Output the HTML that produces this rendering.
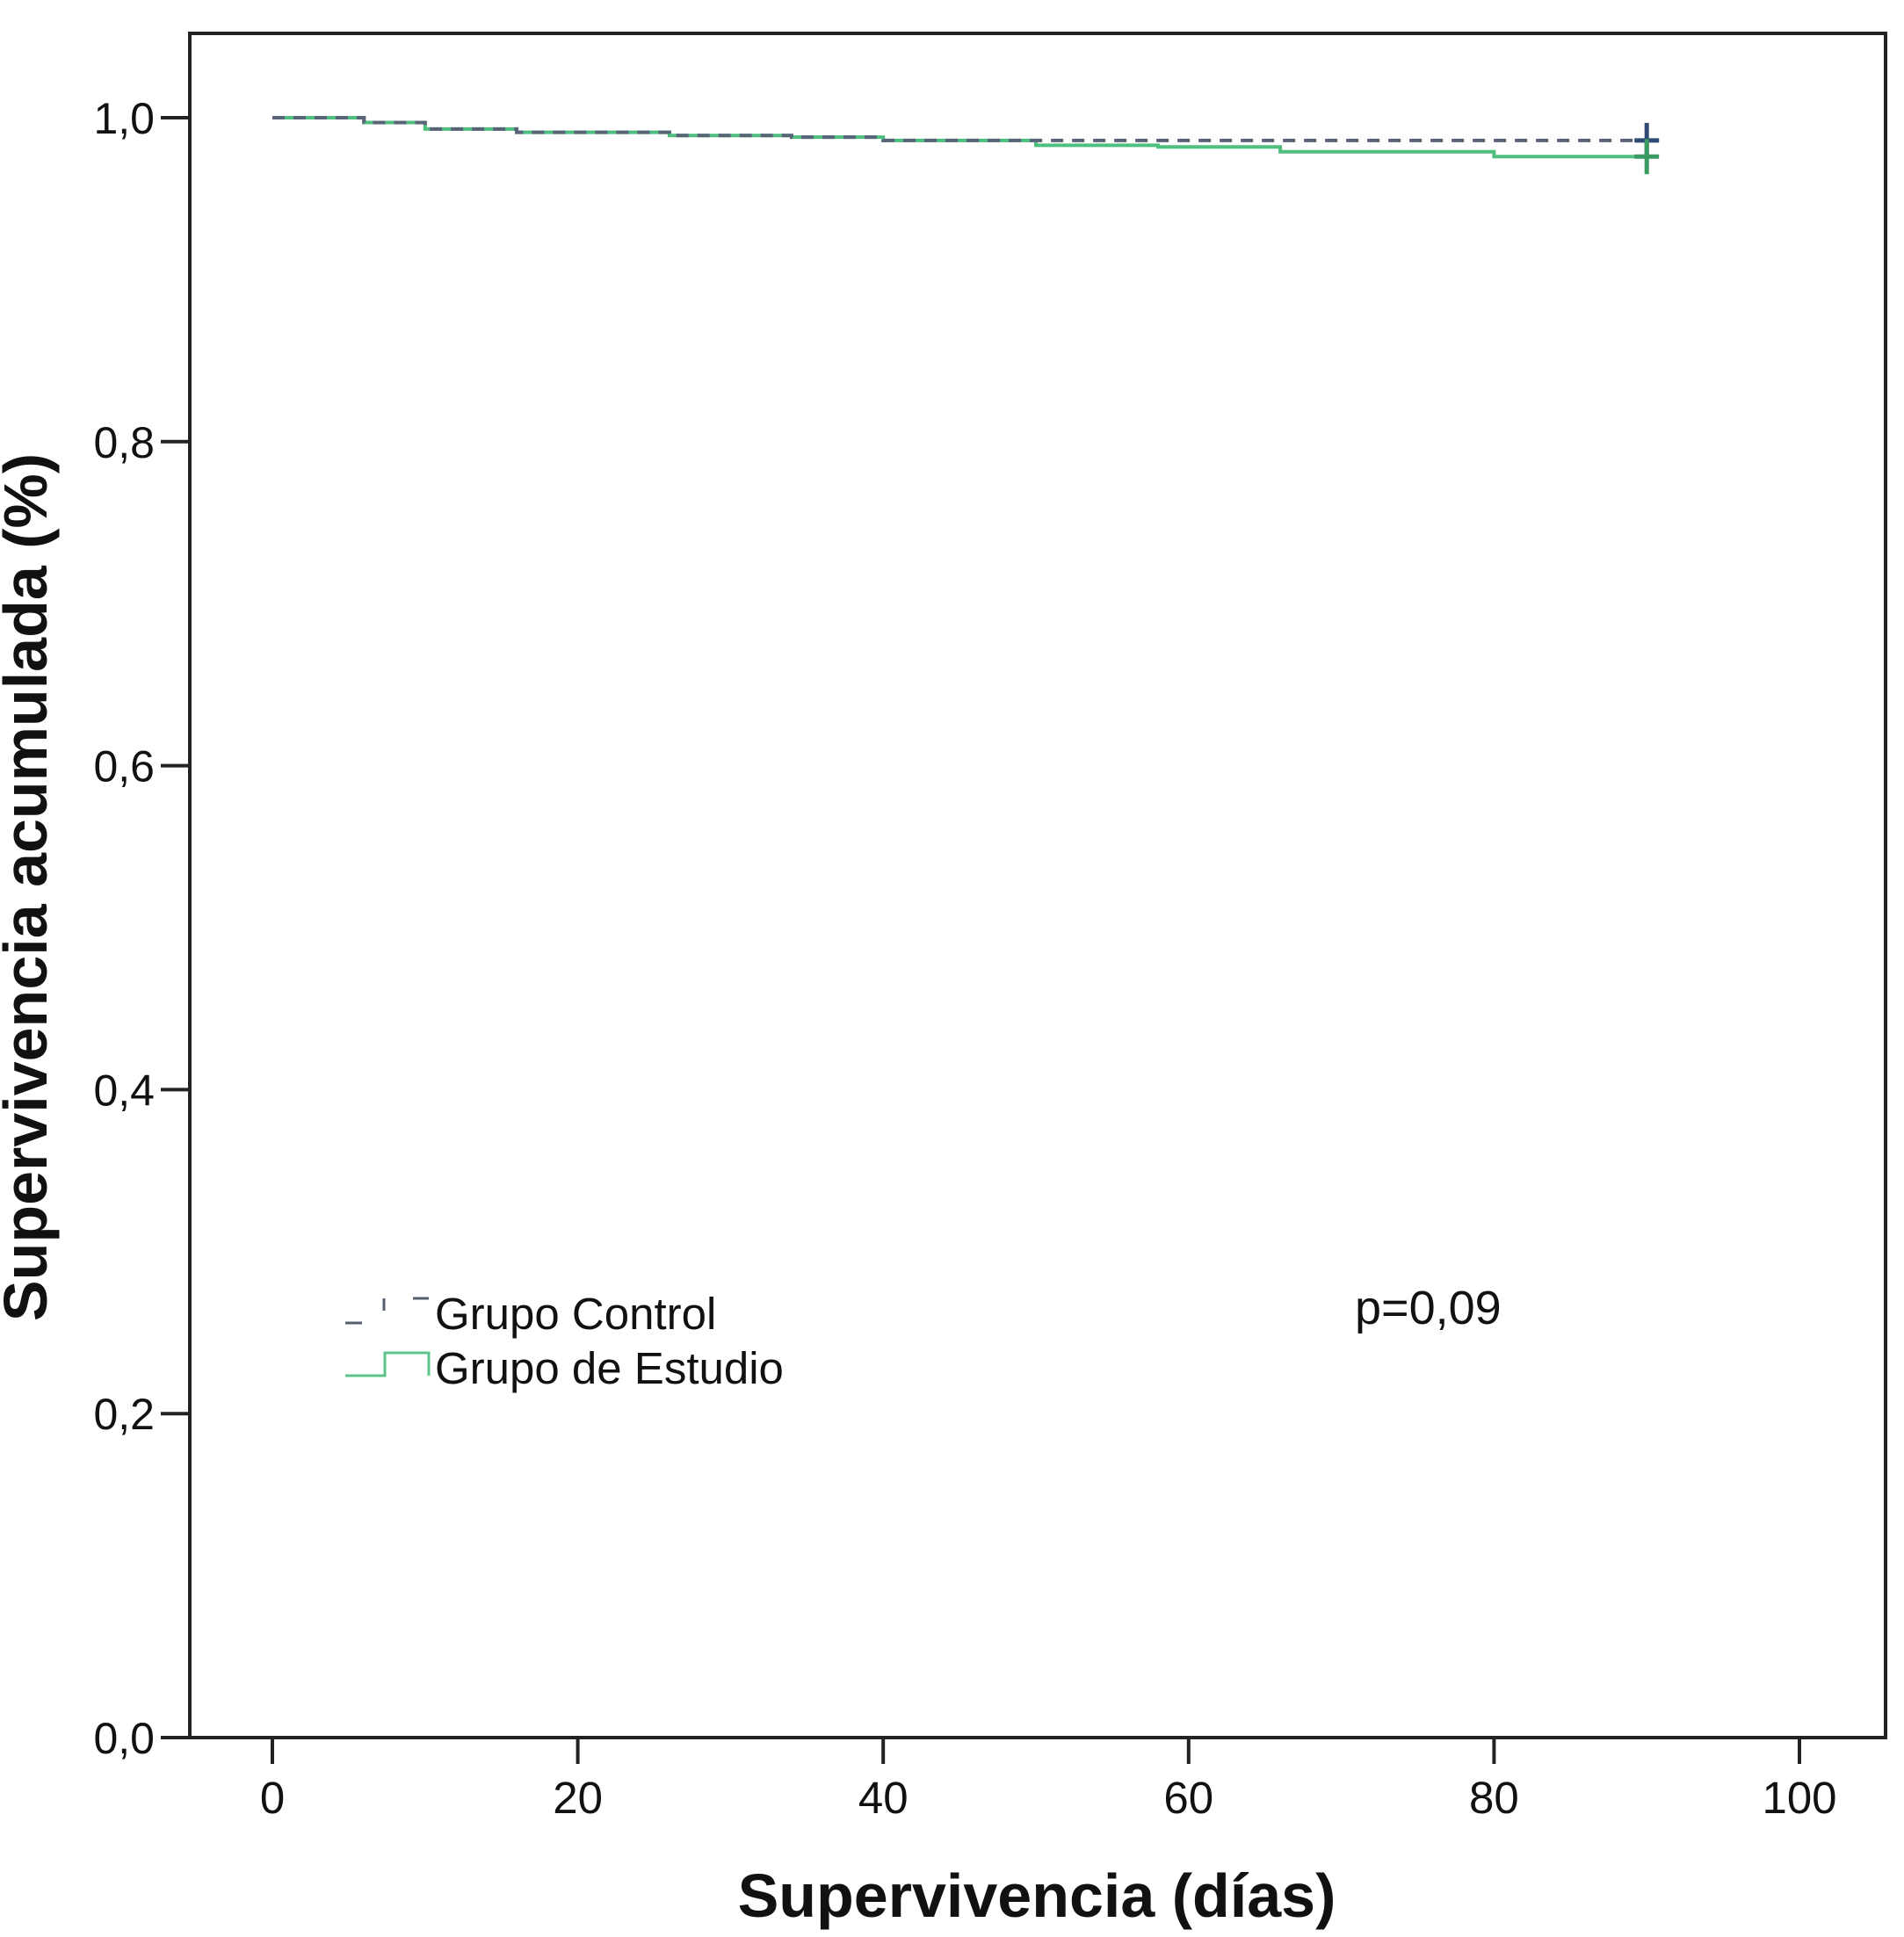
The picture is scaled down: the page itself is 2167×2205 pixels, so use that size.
<!DOCTYPE html>
<html><head><meta charset="utf-8"><style>
html,body{margin:0;padding:0;background:#fff;}
svg{display:block;font-family:"Liberation Sans",Arial,sans-serif;}
</style></head><body>
<svg id="chart" width="2167" height="2205" viewBox="0 0 2167 2205" xmlns="http://www.w3.org/2000/svg">
<rect x="0" y="0" width="2167" height="2205" fill="#fff"/>
<g id="axes"></g>
<g id="series"></g>
<g>
  <path d="M393,1506 L412,1506 M437,1478 L437,1492 M470,1478 L488,1478" stroke="#555f70" stroke-width="3" fill="none"/>
  <text x="495" y="1513" font-size="51" fill="#111">Grupo Control</text>
  <path d="M393,1566 L438,1566 L438,1540 L488,1540 L488,1566" stroke="#5cc48a" stroke-width="3" fill="none"/>
  <text x="495" y="1575" font-size="51" fill="#111">Grupo de Estudio</text>
</g>
<text x="1542" y="1507" font-size="54" fill="#111">p=0,09</text>
<text x="1180" y="2182" font-size="70" font-weight="bold" text-anchor="middle" fill="#111">Supervivencia (días)</text>
<text transform="translate(53,1010) rotate(-90)" font-size="70" font-weight="bold" text-anchor="middle" fill="#111">Supervivencia acumulada (%)</text>
</svg>
<script>
const xTicks = [0, 20, 40, 60, 80, 100];
const yTicks = [0, 0.2, 0.4, 0.6, 0.8, 1.0];
const yTickLabels = ["0,0", "0,2", "0,4", "0,6", "0,8", "1,0"];
const controlTimes = [0, 6, 10, 16, 26, 34, 40, 90];
const controlSurv = [1.0, 0.997, 0.993, 0.991, 0.989, 0.988, 0.986, 0.986];
const studyTimes = [0, 6, 10, 16, 26, 34, 40, 50, 58, 66, 80, 90];
const studySurv = [1.0, 0.997, 0.993, 0.991, 0.989, 0.988, 0.986, 0.983, 0.982, 0.979, 0.976, 0.976];

const NS = "http://www.w3.org/2000/svg";
const X0 = 310, X100 = 2048, Y0 = 1978, Y1 = 134;
function xs(v){ return X0 + (X100 - X0) * v / 100; }
function ys(v){ return Y0 - (Y0 - Y1) * v; }
function mk(tag, attrs, parent){
  const e = document.createElementNS(NS, tag);
  for (const k in attrs) e.setAttribute(k, attrs[k]);
  parent.appendChild(e);
  return e;
}
const axes = document.getElementById("axes");
const frame = mk("rect", {x:216, y:38, width:1930, height:1940, fill:"none", stroke:"#222", "stroke-width":4}, axes);


xTicks.forEach(t => {
  const l = mk("line", {x1:xs(t), x2:xs(t), y1:Y0, y2:Y0+30, stroke:"#222", "stroke-width":4}, axes);
  
  
  const tx = mk("text", {x:xs(t), y:Y0+86, "font-size":51, "text-anchor":"middle", fill:"#111"}, axes);
  
  
  tx.textContent = String(t);
});
yTicks.forEach((t, i) => {
  const l = mk("line", {x1:183, x2:216, y1:ys(t), y2:ys(t), stroke:"#222", "stroke-width":4}, axes);
  
  
  const tx = mk("text", {x:176, y:ys(t)+18, "font-size":50, "text-anchor":"end", fill:"#111"}, axes);
  
  
  tx.textContent = yTickLabels[i];
});
function stepPath(ts, ss){
  let d = "M" + xs(ts[0]) + "," + ys(ss[0]);
  for (let i = 1; i < ts.length; i++){
    d += " L" + xs(ts[i]) + "," + ys(ss[i-1]) + " L" + xs(ts[i]) + "," + ys(ss[i]);
  }
  return d;
}
const series = document.getElementById("series");
const sp = mk("path", {d:stepPath(studyTimes, studySurv), fill:"none", stroke:"#4fbf7f", "stroke-width":4}, series);


const cp = mk("path", {d:stepPath(controlTimes, controlSurv), fill:"none", stroke:"#5a6478", "stroke-width":4, "stroke-dasharray":"14,10"}, series);


function censor(t, s, color, name){
  const g = mk("path", {d:"M"+(xs(t)-14)+","+ys(s)+" L"+(xs(t)+14)+","+ys(s)+" M"+xs(t)+","+(ys(s)-20)+" L"+xs(t)+","+(ys(s)+20), stroke:color, "stroke-width":5, fill:"none"}, series);
  
  
}
censor(controlTimes[controlTimes.length-1], controlSurv[controlSurv.length-1], "#2f4a73", "control-censor-mark");
censor(studyTimes[studyTimes.length-1], studySurv[studySurv.length-1], "#3a9a60", "study-censor-mark");
</script>
</body></html>
